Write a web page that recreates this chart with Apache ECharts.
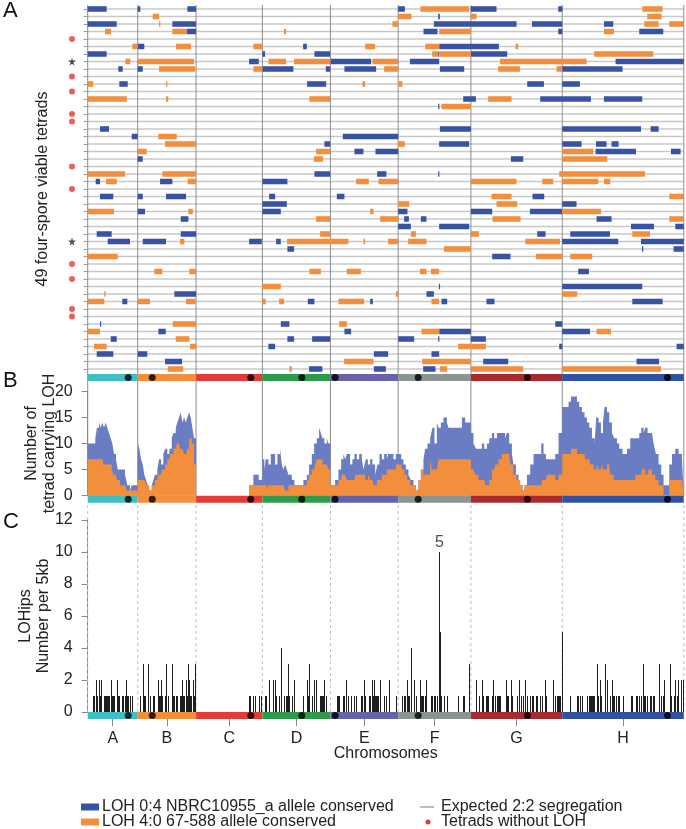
<!DOCTYPE html>
<html>
<head>
<meta charset="utf-8">
<script src="https://cdn.jsdelivr.net/npm/echarts@6/dist/echarts.min.js"></script>
<style>
  html, body { margin: 0; padding: 0; background: #fff; }
  #chart { width: 686px; height: 829px; }
</style>
</head>
<body>
<div id="chart"></div>
<script>
// ---- chromosomes (genome-wide position, arbitrary units, 0 = start of A) ----
const chromNames = ['A', 'B', 'C', 'D', 'E', 'F', 'G', 'H'];
const chromStart = [0, 50, 108.3, 174.6, 242.6, 310.3, 383, 474.3];
const chromEnd = [50, 108.3, 174.6, 242.6, 310.3, 383, 474.3, 595.8];
const centromeres = [40.5, 64.5, 163, 214, 247.3, 330.3, 439.5, 579.5];

// ---- panel A: LOH tracts per tetrad, [row, start, end] ----
const tetradCount = 49;
const lohBlue = [
  [0,0,19],[0,50,52.6],[0,99.6,108.3],[0,310.3,317],[0,383,408.6],[0,470.3,474.3],
  [1,350.3,352],
  [2,0,29],[2,84.6,108.3],[2,346,428.6],[2,444,474.3],[2,516,525.3],
  [3,99,108.3],[3,335.6,349.6],[3,470.3,474.3],[3,551.3,575.3],
  [5,50,56.6],[5,215.3,219],[5,351.3,411],
  [6,0,19],[6,174.6,177.3],[6,226.6,242.3],[6,350.3,351.3],[6,383,419.3],
  [7,161.3,171],[7,242.6,283.3],[7,322,351.3],[7,527.6,595.8],
  [8,30.6,35],[8,50,55],[8,174.6,205.6],[8,238,242.3],[8,256.6,288.3],[8,352,376.3],[8,474.3,534.6],
  [10,31.6,40],[10,219.3,238.3],[10,439.3,456],[10,474.3,492],
  [12,375.3,388],[12,452.3,503],[12,516,554.3],
  [13,350.3,351.3],
  [16,12.3,21.3],[16,352,383],[16,474.3,553],[16,562.6,570.6],
  [17,44,50],[17,255,310.3],
  [18,236.6,242.3],[18,351.3,381.3],[18,474.3,493.6],[18,508,518.6],[18,523.6,530.6],
  [19,266.6,275.6],[19,287.6,310.3],[19,507.6,548],[19,583,592.6],
  [20,50,55],[20,423,435.3],
  [22,226.6,242.3],[22,289.3,298.6],[22,350.3,351.3],
  [23,8,12.3],[23,72.3,84.6],[23,174.6,199.6],
  [25,12.3,25.6],[25,50,55],[25,78.3,98.3],[25,181.3,187.3],[25,249,256.6],[25,444.6,456.3],
  [26,174.6,199],[26,474.3,488.6],
  [27,50,57.3],[27,174.6,193],[27,310.3,319.6],[27,383,404.3],[27,442,474.3],
  [28,93,100.6],[28,316.3,321],[28,333,338.6],[28,508.6,523.6],
  [29,310.3,323],[29,351.3,381.3],[29,543,566],[29,587.3,595.8],
  [30,9,24],[30,93,108.3],[30,449.3,457.6],[30,482.3,522],
  [31,20,42.3],[31,55,78.3],[31,161.3,174],[31,188.3,193],[31,474.3,530.3],[31,553,595.8],
  [32,199.6,206.3],[32,554,555.3],[32,585.6,595.8],
  [33,404.3,422.6],
  [35,490.3,501],
  [37,351,352],[37,474.3,554.3],
  [38,86.6,108.3],[38,338.6,346],
  [39,34.6,39.6],[39,220,226.6],[39,282.3,285],[39,353.6,359.3],[39,398.6,406.6],[39,544.3,574.6],
  [42,12.3,13.3],[42,193,201.6],[42,467.3,474.3],
  [43,70.6,78],[43,256.6,263.3],[43,351.3,383],[43,474.3,502],
  [44,23,29],[44,199.6,206.3],[44,224.3,242.3],[44,310.3,326.3],[44,350.3,351.3],[44,383,398],
  [45,180.6,187.3],[45,471.3,474.3],[45,588.6,595.8],
  [46,9,25.6],[46,50,59.6],[46,286,300.3],[46,343.6,351.3],
  [47,77.3,94.3],[47,395.3,420.3],[47,548.6,571],
  [48,221.3,234.6],[48,286,298],[48,335.3,347.6]
];
const lohOrange = [
  [0,332.6,381.3],[0,554.3,574.6],
  [1,65,71.3],[1,310.3,323.6],[1,383,388.6],[1,559.3,573.6],
  [2,71.3,72.6],[2,304.6,310.3],[2,556.3,570.6],[2,581.3,595.8],
  [3,17.3,23.3],[3,84.6,99],[3,196.3,198.3],[3,351.3,383],[3,516,526],
  [5,44.6,50],[5,88.3,103.3],[5,165.6,174.6],[5,277.3,287.3],[5,337.3,351.3],[5,427.6,430.3],
  [6,344.3,350.3],[6,352,383],[6,506.3,565.3],
  [7,37.6,42.6],[7,50,106.3],[7,180.6,198.3],[7,206.3,242.6],[7,284.6,310.3],[7,412,498.6],
  [8,71.3,107.3],[8,165.6,174.6],[8,296.3,310.3],[8,410.3,432],[8,468.6,474.3],
  [10,0,5.6],[10,78.3,79.6],[10,274.6,277.3],[10,310.3,314.6],
  [12,0,39],[12,78.3,80.6],[12,221.6,242.3],[12,400.3,423.6],
  [13,353.6,383],
  [17,70.6,89],
  [18,77.3,108.3],[18,310.3,317],
  [19,50,59],[19,228.3,242.3],[19,474.3,505.3],
  [20,226,235.3],[20,474.3,519.3],
  [22,0,37.3],[22,74.6,108.3],[22,471.3,557],
  [23,18.3,29],[23,100,108.3],[23,268.3,281],[23,290.6,310.3],[23,383,428.6],[23,454.3,465.3],[23,474.3,510.3],[23,516,522.3],
  [25,403.6,423.6],[25,581.3,595.8],
  [26,310.3,321.3],[26,408.6,429.3],
  [27,0,26.3],[27,100.6,105],[27,282.3,285.6],[27,474.3,513],
  [28,228.3,242.3],[28,292.3,310.3],[28,404.6,432.6],[28,581.3,595.8],
  [30,232.3,242.3],[30,323,328],[30,383,391],[30,544.3,562],
  [31,92.3,96.6],[31,199.3,260.6],[31,275.6,277.3],[31,300.3,310.3],[31,320.3,338.6],[31,437.3,472],
  [32,356,383],
  [33,0,30],[33,448,474.3],[33,482.3,504.3],
  [35,66.6,74.6],[35,101.6,108.3],[35,221.6,233],[35,259,273],[35,332,338.6],[35,343,351.3],
  [37,174.6,193],
  [38,16.6,18],[38,308,310.3],[38,474.3,489.3],
  [39,0,16.6],[39,50,62.3],[39,98.3,107.6],[39,174.6,178],[39,191.3,196.3],[39,250.6,276.3],[39,343.6,351.3],
  [42,85,108.3],[42,251.3,259],
  [43,0,12.3],[43,333.6,351.3],[43,508.6,523],
  [44,88,101.6],
  [45,6.3,19],[45,102.3,108.3],[45,370.3,398],
  [47,256.3,285.6],[47,334.3,383],
  [48,80,95.6],[48,201.6,204],[48,352,359.3],[48,383,435.3],[48,474.3,573]
];
const noLohRows = [4, 9, 11, 14, 15, 21, 24, 34, 36, 40, 41];
const starRows = [7, 31];

// ---- panel B: tetrads carrying LOH, [start, total, 4:0 part] ----
const tetradSteps = [
  [0,10,7],[7.6,11,7],[9.3,13,7],[11.3,14,7],[13,13,7],[14.6,14,7],[15.6,14,6],[16.3,13,6],[18,14,6],
  [19.6,13,6],[21.3,12,6],[23,11,6],[24,11,5],[24.6,10,5],[25.6,10,4],[26.3,8,4],[28.3,7,4],[29,7,3],
  [30,5,3],[32.3,5,2],[37.3,4,2],[39,4,1],[39.6,2,1],[42.3,1,1],[44,2,1],
  [50,10,3],[51.6,9,3],[53.3,7,3],[55,6,3],[56.6,4,3],[58.3,3,3],[59,3,2],[60,2,2],[61.6,1,1],[64,2,2],
  [65.6,3,2],[67.3,4,3],[69.6,5,3],[70.6,5,4],[71.3,7,4],[73.3,6,4],[74,6,5],[75.6,8,5],[77.3,8,6],
  [77.6,9,6],[79.6,8,7],[81.6,9,7],[82.3,9,8],[84,11,8],[85.6,12,9],[88,13,9],[89,13,10],[89.6,14,10],
  [91.3,15,10],[92.3,15,9],[93,16,9],[94.6,14,9],[96.3,15,8],[98,14,8],[99,14,9],[99.6,15,9],
  [101.3,16,11],[103,15,11],[104,15,10],[104.6,13,10],[106.3,11,6],
  [108.3,0,0],[161.3,2,2],[165.6,4,2],[171,3,2],
  [174.6,7,2],[176.6,5,2],[178,7,2],[179,7,1],[180.6,6,2],[183,8,2],[187.3,6,2],[189.6,8,2],[192.3,9,2],
  [194,6,2],[195.6,5,2],[197.3,6,1],[199,5,1],[200.6,4,2],[204,3,2],[206.6,2,2],[215.6,3,2],[219,4,3],
  [221.3,6,4],[224,8,5],[226.3,10,5],[227.3,10,6],[229,11,7],[231.3,13,7],[233,12,7],[234.6,11,6],
  [236.6,10,6],[239,11,6],[240.6,10,5],
  [242.6,2,2],[247.3,3,2],[250.6,5,3],[253.3,7,3],[254,7,4],[255.6,8,4],[257.3,7,4],[259,8,3],[262.3,6,3],
  [264.6,7,3],[266.6,8,3],[267.3,8,4],[269,7,4],[271.3,8,4],[274,7,4],[275.6,5,4],[277.3,5,3],[278,7,3],
  [280,6,3],[280.6,6,4],[282.3,7,3],[284.6,6,3],[285.6,6,2],[287.3,4,2],[289,4,3],[289.6,6,3],[291.6,8,3],
  [294,7,4],[296.3,8,4],[299,7,5],[300.3,8,5],[305.6,7,5],[308,8,6],
  [310.3,8,6],[313.3,7,6],[314,7,5],[315.6,6,5],[316.6,6,4],[318,5,4],[319.3,5,3],[320.6,4,3],[322.3,4,2],
  [323,3,2],[325.6,2,2],[328,1,1],[330.6,3,3],[333,5,5],[335.6,7,4],[337.3,9,4],[339.6,10,4],[342.3,11,7],
  [344,11,5],[344.6,13,5],[346.6,10,5],[349,14,5],[350.6,13,7],[353,14,7],[355.6,15,7],[359,14,7],
  [360.6,13,7],[374,15,7],[377.3,14,7],
  [383,12,5],[385.6,10,5],[387.3,10,4],[388,9,4],[390.6,9,3],[394,10,3],[396.3,9,3],[397.3,9,2],[399,10,2],
  [401.3,11,3],[404,12,5],[406.3,11,5],[407.3,11,6],[409,12,6],[410.6,12,7],[414,12,8],[417.3,11,8],
  [419,12,8],[421.3,10,8],[422.3,10,6],[424,8,6],[425.6,6,4],[428,4,4],[429,4,3],[430.6,3,3],[432.3,2,2],
  [434.6,1,1],[436.6,2,2],[439,4,2],[442.3,6,2],[445.6,8,2],[453.3,10,2],[454,10,3],[455.6,8,3],
  [458,7,3],[459,7,4],[467.3,8,3],[470.6,12,4],
  [474.3,17,8],[480.6,18,8],[483,19,9],[489,18,8],[491.3,17,8],[494,16,8],[496.6,15,8],[497.3,15,7],
  [499,14,7],[501.3,13,7],[502.3,13,6],[504,11,6],[505.6,11,5],[506.6,10,5],[508.3,15,5],[509,15,6],
  [510.6,14,5],[513,12,5],[514,12,6],[515,14,6],[515.6,14,5],[516.6,17,5],[519,16,6],[521.3,14,6],
  [522.3,14,4],[524,12,4],[525.6,12,3],[526.3,11,3],[529,10,3],[531.3,9,3],[534.6,8,3],[539,9,3],
  [542.3,11,3],[547.3,11,4],[551.3,12,4],[553.3,13,4],[554,13,5],[555.6,12,5],[557.3,13,4],[559.6,12,4],
  [560.6,12,5],[564,12,4],[565.6,10,4],[567.3,10,3],[568,8,3],[570.6,6,2],[573.3,4,2],[575.6,2,0],
  [581.3,6,3],[584,8,3],[587.3,9,3],[590.6,8,3],[594,7,3],[595.8,7,3]
];

// ---- panel C: LOHips per 5 kb, [position, count] ----
const lohips = [
  [5.6,1],[6.3,1],[8,2],[9,1],[11,2],[12.3,1],[13.3,2],[16.6,1],[17.3,1],[18.3,1],[19,1],[20,1],[21.3,1],
  [23,2],[24,1],[25.6,1],[26.3,1],[29,2],[30,1],[30.6,1],[31.6,1],[34.6,1],[35,1],[37.3,1],[38.4,2],
  [39.6,1],[40,1],[42.3,1],[42.6,1],[44,1],[44.6,1],
  [52.6,1],[55.5,3],[56.6,1],[57.3,1],[59.9,3],[62.3,1],[65,1],[66.6,1],[70,2],[71.3,1],[72.6,1],[73,2],
  [74.6,1],[77.3,1],[78.7,3],[80,1],[80.6,1],[84.4,3],[85,1],[86.6,1],[88,1],[89,1],[92.3,1],[93,1],
  [94.1,2],[95.6,1],[96.6,1],[98.5,2],[99,1],[100.2,3],[101.5,2],[102.3,1],[103.3,1],[105,2],[106.3,1],
  [107.2,3],
  [161.3,1],[162.5,1],[165.6,1],[167,1],[171,1],[173.5,1],
  [177.3,1],[178,1],[180.8,2],[185.2,2],[187.4,2],[188.3,1],[191.3,1],[193.1,4],[196.3,1],[198.3,1],
  [199,1],[200.1,3],[201.6,1],[204,1],[205.8,2],[206.3,1],[215.3,1],[218.9,2],[220,1],[221.5,3],
  [224.3,1],[225.9,2],[226.6,1],[228.6,2],[232.3,1],[233,1],[234.6,1],[235.3,1],[236.4,2],[238,1],[238.3,1],
  [249,1],[250.6,1],[251.3,1],[255,1],[256.6,1],[258.3,2],[260.6,1],[263.3,1],[266.6,1],[268.3,1],
  [273,1],[274.6,1],[275.9,2],[277.3,1],[281,1],[282.3,1],[283.7,2],[285,1],[286.3,2],[287.6,1],
  [288.3,1],[289.3,1],[290.6,1],[292.5,2],[296.3,1],[298,1],[298.6,1],[300.8,2],[308,1],
  [314.6,1],[316.3,1],[317,1],[318.8,2],[320.3,1],[321.3,1],[322.7,4],[326.3,2],[328,1],[331.9,2],
  [333,1],[333.6,1],[334.3,1],[335.3,1],[337.3,1],[338.5,2],[343,1],[343.6,1],[344.3,1],[346,1],
  [347.6,1],[349.6,1],[351.1,4],[351.5,10],[351.9,5],[353.6,1],[356,1],[359.3,1],[370.3,1],[375.3,1],
  [376.3,1],[381.3,3],
  [388.4,2],[391,1],[394.1,2],[395.3,1],[398,1],[398.6,1],[400.3,1],[403.6,1],[404.3,1],[405.1,2],
  [406.6,1],[408.6,1],[410.3,1],[411,1],[412,1],[418.2,2],[419.3,1],[420.3,1],[422.6,2],[423.6,1],
  [428.6,1],[429.3,1],[431.4,2],[432.6,1],[435.3,1],[437,2],[439.3,1],[442,1],[444,1],[444.6,1],
  [448,1],[449.3,1],[452.3,1],[454.3,1],[456.8,2],[457.6,1],[465.1,2],[467.3,1],[468.6,1],[470.3,1],
  [471.3,1],[472,1],[474,5],
  [482.3,1],[488.6,1],[489.3,1],[490.3,1],[492,1],[493.6,1],[498.6,1],[501,1],[502,1],[503,1],
  [504.3,1],[505.3,1],[506.3,1],[508.9,3],[510.3,1],[512.4,2],[513,1],[516.8,3],[518.6,1],[519.4,2],
  [522,1],[523.8,2],[525.3,1],[526,1],[527.6,1],[530.3,1],[530.6,1],[534.6,1],[543,1],[544.3,1],
  [548,1],[548.6,1],[551.3,1],[553,1],[554.9,3],[556.3,1],[557,1],[559.3,1],[562,1],[562.6,1],
  [565.3,1],[566,1],[570.6,1],[571.5,3],[573,1],[574.6,1],[575.9,2],[581.6,3],[583,1],[585.6,1],
  [586.9,2],[587.3,1],[588.6,1],[590.4,2],[592.6,1],[593.4,2],[595.3,2]
];
const peakNote = [351.5, 10, '5'];

// ---- styles ----
const FONT = '"Liberation Sans", Arial, Helvetica, sans-serif';
const chromColors = ['#3dbfc3', '#f28e3c', '#e53a36', '#2e9b4b', '#6762aa', '#8a9590', '#a82a2e', '#3152a3'];
const BLUE = '#3953a4', ORANGE = '#f28e3c';
const genomeEnd = chromEnd[chromEnd.length - 1];
const rowIds = Array.from({ length: tetradCount }, (_, i) => String(i + 1));
const chromCenters = chromStart.map((s, i) => (s + chromEnd[i]) / 2);
const chromBands = chromStart.map((s, i) => [s, chromEnd[i], i]);
const bounds = chromStart.concat([genomeEnd]).map(x => [x]);

const myChart = echarts.init(document.getElementById('chart'), null, { renderer: 'canvas' });

const L = 87.7, W = 596.1;
const gridList = [
  { left: L, width: W, top: 5.25, height: 367.5 },   // 0 tetrad rows
  { left: L, width: W, top: 374, height: 7 },        // 1 chromosome bar A
  { left: L, width: W, top: 391.3, height: 104.4 },  // 2 panel B
  { left: L, width: W, top: 495.7, height: 7 },      // 3 chromosome bar B
  { left: L, width: W, top: 520, height: 192 },      // 4 panel C
  { left: L, width: W, top: 712, height: 7 },        // 5 chromosome bar C
  { left: 66, width: 12, top: 5.25, height: 367.5 }, // 6 markers left of rows
  { left: L, width: W, top: 5, height: 490.7 },      // 7 solid separators A-B
  { left: L, width: W, top: 503, height: 209 }       // 8 dashed separators C
];

function hiddenX(i, max) {
  return { type: 'value', gridIndex: i, min: 0, max: max, show: false };
}
function hiddenY(i) {
  return { type: 'value', gridIndex: i, min: 0, max: 1, show: false };
}

const xAxes = [];
for (let i = 0; i < gridList.length; i++) xAxes.push(hiddenX(i, i === 6 ? 1 : genomeEnd));
// chromosome labels under panel C
xAxes[5] = {
  type: 'value', gridIndex: 5, min: 0, max: genomeEnd,
  axisLine: { show: false },
  splitLine: { show: false },
  axisTick: { show: true, customValues: chromCenters, length: 7, lineStyle: { color: '#888' } },
  axisLabel: {
    show: true, customValues: chromCenters, margin: 12, fontSize: 16, color: '#222', fontFamily: FONT,
    formatter: v => chromNames[chromCenters.indexOf(v)]
  },
  name: 'Chromosomes', nameLocation: 'middle', nameGap: 27, nameMoveOverlap: false,
  nameTextStyle: { fontSize: 16, color: '#222', fontFamily: FONT }
};

const axisText = { fontSize: 16, color: '#222', fontFamily: FONT };
const yAxes = [
  {
    type: 'category', gridIndex: 0, data: rowIds, inverse: true, offset: 5,
    axisLine: { show: false },
    axisTick: { show: true, alignWithLabel: true, interval: 0, length: 4, lineStyle: { color: '#999' } },
    axisLabel: { show: false },
    name: '49 four-spore viable tetrads', nameLocation: 'middle', nameGap: 32, nameMoveOverlap: false,
    nameTextStyle: axisText
  },
  hiddenY(1),
  {
    type: 'value', gridIndex: 2, min: 0, max: 20, interval: 5, offset: 6,
    axisLine: { show: true, lineStyle: { color: '#888' } },
    axisTick: { show: true, length: 6, lineStyle: { color: '#888' } },
    axisLabel: Object.assign({ margin: 9 }, axisText),
    splitLine: { show: false },
    name: 'Number of\ntetrad carrying LOH', nameLocation: 'middle', nameGap: 23, nameMoveOverlap: false,
    nameTextStyle: Object.assign({ lineHeight: 18 }, axisText)
  },
  hiddenY(3),
  {
    type: 'value', gridIndex: 4, min: 0, max: 12, interval: 2, offset: 6,
    axisLine: { show: true, lineStyle: { color: '#888' } },
    axisTick: { show: true, length: 6, lineStyle: { color: '#888' } },
    axisLabel: Object.assign({ margin: 9 }, axisText),
    splitLine: { show: false },
    name: 'LOHips\nNumber per 5kb', nameLocation: 'middle', nameGap: 29, nameMoveOverlap: false,
    nameTextStyle: Object.assign({ lineHeight: 18 }, axisText)
  },
  hiddenY(5),
  { type: 'category', gridIndex: 6, data: rowIds, inverse: true, show: false },
  hiddenY(7),
  hiddenY(8)
];

// render helpers
function renderSegment(params, api) {
  const r = api.value(0);
  const a = api.coord([api.value(1), r]);
  const b = api.coord([api.value(2), r]);
  const h = api.size([0, 1])[1] * 0.74;
  return {
    type: 'rect',
    shape: { x: a[0], y: a[1] - h / 2, width: Math.max(b[0] - a[0], 1.2), height: h },
    style: { fill: api.visual('color') }
  };
}
function renderRowLine(params, api) {
  const r = api.value(0);
  const a = api.coord([0, r]);
  const b = api.coord([genomeEnd, r]);
  return { type: 'line', shape: { x1: a[0], y1: a[1], x2: b[0], y2: b[1] },
           style: { stroke: '#c8c8c8', lineWidth: 1.6 } };
}
function renderBand(params, api) {
  const a = api.coord([api.value(0), 1]);
  const b = api.coord([api.value(1), 0]);
  return { type: 'rect', shape: { x: a[0], y: a[1], width: b[0] - a[0], height: b[1] - a[1] },
           style: { fill: chromColors[api.value(2)] } };
}
function makeVLine(color, dash) {
  return function (params, api) {
    const a = api.coord([api.value(0), 0]);
    const b = api.coord([api.value(0), 1]);
    return { type: 'line', shape: { x1: a[0], y1: a[1], x2: b[0], y2: b[1] },
             style: { stroke: color, lineWidth: 1, lineDash: dash } };
  };
}
function renderSpike(params, api) {
  const a = api.coord([api.value(0), 0]);
  const b = api.coord([api.value(0), api.value(1)]);
  const x = Math.round(a[0]) + 0.5;
  return { type: 'line', shape: { x1: x, y1: a[1], x2: x, y2: b[1] },
           style: { stroke: '#1e1e1e', lineWidth: 1 } };
}

const series = [
  // separators
  { type: 'custom', xAxisIndex: 7, yAxisIndex: 7, renderItem: makeVLine('#8c8c8c', null),
    data: bounds, silent: true, z: 2 },
  { type: 'custom', xAxisIndex: 8, yAxisIndex: 8, renderItem: makeVLine('#bdbdbd', [3, 3]),
    data: bounds, silent: true, z: 2 },
  // panel A
  { type: 'custom', name: 'Expected 2:2 segregation', xAxisIndex: 0, yAxisIndex: 0,
    renderItem: renderRowLine, data: rowIds.map((_, i) => [i]), encode: { y: 0 }, silent: true, z: 1 },
  { type: 'custom', name: 'LOH 0:4 NBRC10955_a allele conserved', xAxisIndex: 0, yAxisIndex: 0,
    renderItem: renderSegment, data: lohBlue, encode: { x: [1, 2], y: 0 },
    itemStyle: { color: BLUE }, z: 4 },
  { type: 'custom', name: 'LOH 4:0 67-588 allele conserved', xAxisIndex: 0, yAxisIndex: 0,
    renderItem: renderSegment, data: lohOrange, encode: { x: [1, 2], y: 0 },
    itemStyle: { color: ORANGE }, z: 4 },
  { type: 'scatter', name: 'Tetrads without LOH', xAxisIndex: 6, yAxisIndex: 6,
    data: noLohRows.map(r => [0.5, r]), symbolSize: 6, itemStyle: { color: '#e53935' }, z: 4 },
  { type: 'scatter', xAxisIndex: 6, yAxisIndex: 6, data: starRows.map(r => [0.5, r]),
    symbol: 'path://M50,0 L61,35 L98,35 L68,57 L79,91 L50,70 L21,91 L32,57 L2,35 L39,35 Z',
    symbolSize: 8, itemStyle: { color: '#222' }, z: 4 },
  // panel B
  { type: 'line', xAxisIndex: 2, yAxisIndex: 2, step: 'end', showSymbol: false, symbol: 'none',
    data: tetradSteps.map(d => [d[0], d[1]]), lineStyle: { width: 0 },
    areaStyle: { color: '#6a7dc2', opacity: 1 }, z: 3 },
  { type: 'line', xAxisIndex: 2, yAxisIndex: 2, step: 'end', showSymbol: false, symbol: 'none',
    data: tetradSteps.map(d => [d[0], d[2]]), lineStyle: { width: 0 },
    areaStyle: { color: ORANGE, opacity: 1 }, z: 3 },
  // panel C
  { type: 'custom', xAxisIndex: 4, yAxisIndex: 4, renderItem: renderSpike, data: lohips,
    encode: { x: 0, y: 1 }, z: 3 },
  { type: 'scatter', xAxisIndex: 4, yAxisIndex: 4, data: [peakNote], symbolSize: 1,
    itemStyle: { color: 'rgba(0,0,0,0)' },
    label: { show: true, position: 'top', distance: 1, formatter: p => p.value[2],
             fontSize: 16, color: '#222', fontFamily: FONT }, z: 5 }
];
// chromosome bars + centromeres
[1, 3, 5].forEach(g => {
  series.push({ type: 'custom', xAxisIndex: g, yAxisIndex: g, renderItem: renderBand,
                data: chromBands, silent: true, z: 6 });
  series.push({ type: 'scatter', xAxisIndex: g, yAxisIndex: g, data: centromeres.map(c => [c, 0.5]),
                symbolSize: 7, itemStyle: { color: '#000' }, silent: true, z: 7 });
});

const legendY1 = 807, legendY2 = 822;
myChart.setOption({
  animation: false,
  textStyle: { fontFamily: FONT },
  title: [
    { text: 'A', left: 3, top: 0, padding: 0, textStyle: { fontSize: 22, fontWeight: 'normal', color: '#111', fontFamily: FONT } },
    { text: 'B', left: 3, top: 370, padding: 0, textStyle: { fontSize: 22, fontWeight: 'normal', color: '#111', fontFamily: FONT } },
    { text: 'C', left: 3, top: 511, padding: 0, textStyle: { fontSize: 22, fontWeight: 'normal', color: '#111', fontFamily: FONT } }
  ],
  grid: gridList,
  xAxis: xAxes,
  yAxis: yAxes,
  series: series,
  graphic: [
    { type: 'rect', shape: { x: 81, y: legendY1 - 3.5, width: 18, height: 7 }, style: { fill: BLUE } },
    { type: 'text', x: 102, y: legendY1, style: { text: 'LOH 0:4 NBRC10955_a allele conserved', fontSize: 16, fill: '#222', fontFamily: FONT, verticalAlign: 'middle' } },
    { type: 'rect', shape: { x: 81, y: legendY2 - 3.5, width: 18, height: 7 }, style: { fill: ORANGE } },
    { type: 'text', x: 102, y: legendY2, style: { text: 'LOH 4:0 67-588 allele conserved', fontSize: 16, fill: '#222', fontFamily: FONT, verticalAlign: 'middle' } },
    { type: 'line', shape: { x1: 420, y1: legendY1, x2: 434, y2: legendY1 }, style: { stroke: '#bdbdbd', lineWidth: 2 } },
    { type: 'text', x: 441, y: legendY1, style: { text: 'Expected 2:2 segregation', fontSize: 16, fill: '#222', fontFamily: FONT, verticalAlign: 'middle' } },
    { type: 'circle', shape: { cx: 428, cy: legendY2, r: 2.5 }, style: { fill: '#e53935' } },
    { type: 'text', x: 441, y: legendY2, style: { text: 'Tetrads without LOH', fontSize: 16, fill: '#222', fontFamily: FONT, verticalAlign: 'middle' } }
  ]
});
</script>
</body>
</html>
